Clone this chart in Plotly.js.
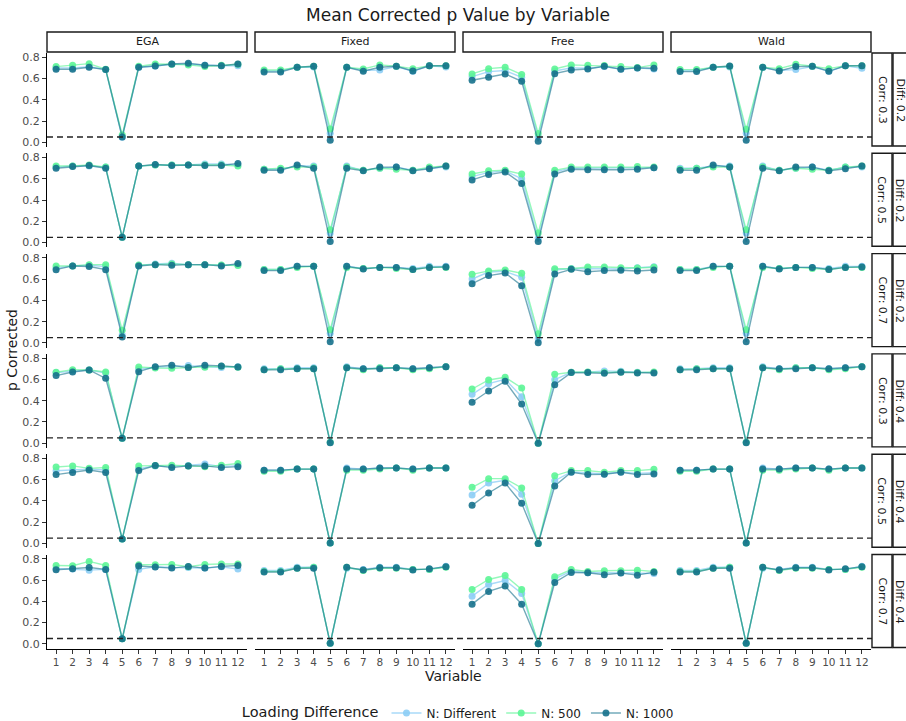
<!DOCTYPE html>
<html><head><meta charset="utf-8">
<script src="https://cdn.plot.ly/plotly-3.0.1.min.js"></script>
<style>html,body{margin:0;padding:0;background:#fff}</style>
</head><body><div id="chart" style="width:906px;height:721px"></div>
<script>
const variables = [1,2,3,4,5,6,7,8,9,10,11,12];
const methods = ['EGA','Fixed','Free','Wald'];
const rowDiff = ['Diff: 0.2','Diff: 0.2','Diff: 0.2','Diff: 0.4','Diff: 0.4','Diff: 0.4'];
const rowCorr = ['Corr: 0.3','Corr: 0.5','Corr: 0.7','Corr: 0.3','Corr: 0.5','Corr: 0.7'];
const seriesNames = ['N: Different','N: 500','N: 1000'];
const yTicks = [0,0.2,0.4,0.6,0.8];
const yTickText = ['0.0','0.2','0.4','0.6','0.8'];
const refLine = 0.05;

// rows: Diff0.2/Corr0.3, Diff0.2/Corr0.5, Diff0.2/Corr0.7, Diff0.4/Corr0.3, Diff0.4/Corr0.5, Diff0.4/Corr0.7
const egaDiff = [
 [0.70,0.70,0.71,0.684,0.047,0.706,0.718,0.734,0.734,0.725,0.72,0.72],
 [0.71,0.72,0.72,0.71,0.05,0.72,0.73,0.73,0.73,0.74,0.74,0.73],
 [0.705,0.724,0.73,0.718,0.075,0.73,0.743,0.749,0.736,0.736,0.73,0.733],
 [0.664,0.68,0.689,0.66,0.046,0.695,0.714,0.72,0.73,0.72,0.711,0.72],
 [0.685,0.692,0.70,0.692,0.042,0.704,0.73,0.723,0.733,0.749,0.723,0.733],
 [0.709,0.703,0.693,0.70,0.047,0.70,0.725,0.718,0.718,0.712,0.725,0.703]
];
const ega500 = [
 [0.712,0.725,0.74,0.687,0.069,0.715,0.737,0.734,0.728,0.712,0.725,0.734],
 [0.72,0.72,0.73,0.71,0.05,0.72,0.73,0.73,0.73,0.73,0.73,0.72],
 [0.724,0.724,0.736,0.736,0.118,0.733,0.736,0.743,0.736,0.736,0.733,0.727],
 [0.667,0.692,0.689,0.67,0.046,0.717,0.708,0.705,0.711,0.714,0.724,0.714],
 [0.72,0.73,0.707,0.714,0.042,0.73,0.733,0.736,0.73,0.723,0.736,0.752],
 [0.737,0.734,0.775,0.737,0.047,0.744,0.744,0.747,0.725,0.747,0.75,0.75]
];
const ega1000 = [
 [0.687,0.687,0.706,0.684,0.05,0.706,0.718,0.737,0.744,0.725,0.72,0.737],
 [0.70,0.715,0.725,0.70,0.05,0.72,0.735,0.725,0.73,0.725,0.725,0.745],
 [0.689,0.724,0.718,0.689,0.056,0.724,0.736,0.73,0.736,0.736,0.724,0.746],
 [0.636,0.67,0.689,0.61,0.046,0.673,0.72,0.733,0.711,0.733,0.727,0.717],
 [0.648,0.667,0.692,0.667,0.042,0.686,0.733,0.714,0.73,0.73,0.714,0.723],
 [0.696,0.706,0.718,0.70,0.047,0.731,0.722,0.712,0.728,0.712,0.728,0.737]
];
const fixedDiff = [
 [0.671,0.671,0.706,0.709,0.085,0.706,0.678,0.68,0.712,0.668,0.72,0.709],
 [0.69,0.69,0.72,0.72,0.09,0.72,0.68,0.70,0.71,0.68,0.70,0.71],
 [0.69,0.69,0.72,0.72,0.09,0.72,0.70,0.71,0.71,0.70,0.72,0.72],
 [0.70,0.70,0.71,0.71,0.01,0.72,0.70,0.71,0.71,0.70,0.71,0.72],
 [0.69,0.69,0.70,0.70,0.005,0.71,0.70,0.71,0.71,0.70,0.71,0.71],
 [0.69,0.69,0.72,0.72,0.005,0.71,0.70,0.72,0.72,0.70,0.70,0.73]
];
const fixed500 = [
 [0.68,0.68,0.706,0.715,0.125,0.706,0.69,0.728,0.715,0.693,0.72,0.72],
 [0.69,0.70,0.71,0.71,0.12,0.71,0.68,0.70,0.69,0.68,0.71,0.72],
 [0.69,0.69,0.71,0.72,0.125,0.71,0.70,0.71,0.70,0.69,0.71,0.71],
 [0.69,0.70,0.70,0.70,0.01,0.71,0.69,0.71,0.71,0.69,0.70,0.72],
 [0.68,0.68,0.70,0.70,0.005,0.69,0.69,0.70,0.71,0.69,0.71,0.71],
 [0.68,0.68,0.71,0.72,0.005,0.72,0.69,0.71,0.71,0.70,0.70,0.72]
];
const fixed1000 = [
 [0.662,0.662,0.706,0.715,0.019,0.706,0.668,0.706,0.715,0.671,0.72,0.72],
 [0.68,0.68,0.73,0.70,0.01,0.70,0.675,0.71,0.71,0.675,0.695,0.72],
 [0.68,0.68,0.72,0.72,0.01,0.72,0.695,0.71,0.71,0.69,0.71,0.715],
 [0.69,0.69,0.70,0.70,0.005,0.71,0.70,0.70,0.71,0.70,0.71,0.72],
 [0.69,0.69,0.70,0.70,0.005,0.70,0.70,0.71,0.71,0.70,0.71,0.71],
 [0.675,0.675,0.71,0.71,0.005,0.72,0.695,0.715,0.715,0.695,0.705,0.725]
];
const freeDiff = [
 [0.618,0.665,0.675,0.612,0.05,0.671,0.70,0.696,0.712,0.69,0.70,0.69],
 [0.62,0.66,0.675,0.60,0.04,0.665,0.70,0.70,0.70,0.70,0.70,0.705],
 [0.601,0.667,0.673,0.617,0.037,0.686,0.70,0.70,0.70,0.695,0.708,0.717],
 [0.46,0.56,0.601,0.438,0.0,0.598,0.667,0.667,0.68,0.677,0.667,0.664],
 [0.456,0.569,0.594,0.463,0.0,0.591,0.673,0.66,0.654,0.673,0.66,0.667],
 [0.448,0.558,0.596,0.473,0.0,0.612,0.683,0.668,0.668,0.668,0.668,0.662]
];
const free500 = [
 [0.643,0.693,0.706,0.637,0.082,0.69,0.728,0.725,0.722,0.712,0.703,0.728],
 [0.645,0.675,0.68,0.645,0.09,0.68,0.71,0.71,0.71,0.71,0.715,0.71],
 [0.645,0.677,0.686,0.655,0.086,0.698,0.698,0.714,0.714,0.708,0.705,0.711],
 [0.51,0.595,0.62,0.519,0.0,0.648,0.667,0.67,0.664,0.67,0.664,0.67],
 [0.529,0.61,0.61,0.522,0.0,0.638,0.686,0.686,0.67,0.686,0.686,0.698],
 [0.511,0.605,0.643,0.511,0.0,0.63,0.699,0.68,0.687,0.687,0.693,0.68]
];
const free1000 = [
 [0.584,0.612,0.643,0.574,0.009,0.646,0.68,0.69,0.715,0.687,0.70,0.696],
 [0.59,0.64,0.665,0.555,0.01,0.645,0.69,0.685,0.685,0.685,0.69,0.705],
 [0.557,0.633,0.658,0.538,0.002,0.648,0.692,0.67,0.68,0.683,0.677,0.686],
 [0.385,0.491,0.582,0.369,0.0,0.551,0.664,0.664,0.658,0.667,0.661,0.661],
 [0.359,0.475,0.569,0.378,0.0,0.541,0.67,0.648,0.651,0.67,0.648,0.654],
 [0.373,0.493,0.543,0.373,0.0,0.577,0.671,0.668,0.649,0.665,0.646,0.674]
];
const waldDiff = [
 [0.675,0.675,0.706,0.709,0.085,0.703,0.678,0.684,0.712,0.668,0.72,0.696],
 [0.70,0.70,0.72,0.72,0.09,0.72,0.68,0.70,0.71,0.68,0.71,0.71],
 [0.69,0.69,0.72,0.72,0.09,0.72,0.70,0.71,0.71,0.70,0.72,0.72],
 [0.70,0.70,0.71,0.71,0.01,0.72,0.70,0.71,0.71,0.70,0.71,0.72],
 [0.69,0.69,0.70,0.70,0.005,0.71,0.70,0.71,0.71,0.70,0.71,0.71],
 [0.69,0.69,0.72,0.72,0.005,0.71,0.70,0.72,0.72,0.70,0.70,0.73]
];
const wald500 = [
 [0.684,0.684,0.706,0.715,0.122,0.706,0.693,0.734,0.715,0.693,0.72,0.72],
 [0.69,0.70,0.71,0.71,0.12,0.71,0.68,0.70,0.69,0.68,0.71,0.72],
 [0.69,0.69,0.71,0.72,0.125,0.71,0.70,0.71,0.70,0.69,0.71,0.71],
 [0.69,0.70,0.70,0.70,0.01,0.71,0.69,0.71,0.71,0.69,0.70,0.72],
 [0.68,0.68,0.70,0.70,0.005,0.69,0.69,0.70,0.71,0.69,0.71,0.71],
 [0.68,0.68,0.71,0.72,0.005,0.72,0.69,0.71,0.71,0.70,0.70,0.72]
];
const wald1000 = [
 [0.665,0.665,0.706,0.718,0.019,0.706,0.671,0.712,0.715,0.668,0.72,0.72],
 [0.68,0.68,0.73,0.71,0.01,0.70,0.675,0.71,0.71,0.675,0.695,0.72],
 [0.68,0.68,0.72,0.72,0.01,0.72,0.695,0.71,0.71,0.69,0.71,0.715],
 [0.69,0.69,0.70,0.70,0.005,0.71,0.70,0.70,0.71,0.70,0.71,0.72],
 [0.69,0.69,0.70,0.70,0.005,0.70,0.70,0.71,0.71,0.70,0.71,0.71],
 [0.675,0.675,0.71,0.71,0.005,0.72,0.695,0.715,0.715,0.695,0.705,0.725]
];

const seriesByMethod = [
  [egaDiff, ega500, ega1000],
  [fixedDiff, fixed500, fixed1000],
  [freeDiff, free500, free1000],
  [waldDiff, wald500, wald1000]
];
const markerColors = ['#8ccdf5','#5cf596','#16718c'];
const lineColors = ['rgba(140,205,245,0.75)','rgba(92,245,150,0.65)','rgba(22,113,140,0.6)'];

const W = 906, H = 721;
const colX = [47,255,463,671], colW = 200;
const rowTop0 = 53, rowStep = 100.3, rowH = 94;
const FONT = 'DejaVu Sans, sans-serif';

const traces = [];
const layout = {
  width: W, height: H,
  margin: {l:0, r:0, t:0, b:0, pad: 0, autoexpand: false},
  paper_bgcolor: '#fff', plot_bgcolor: 'rgba(0,0,0,0)',
  font: {family: FONT, color: '#1a1a1a'},
  title: {text: 'Mean Corrected p Value by Variable', x: 458/W, xanchor: 'center', y: 1 - 15/H, yanchor: 'middle', font: {size: 17, color: '#1a1a1a'}},
  showlegend: true,
  legend: {orientation: 'h', x: 0.507, xanchor: 'center', y: 1 - 713/H, yanchor: 'middle',
    title: {text: 'Loading Difference', side: 'left', font: {size: 14.5, color: '#1a1a1a'}},
    font: {size: 12, color: '#1a1a1a'}, itemwidth: 30, tracegroupgap: 0, bgcolor: 'rgba(0,0,0,0)'},
  shapes: [], annotations: []
};

for (let r = 0; r < 6; r++) {
  const top = rowTop0 + r*rowStep;
  for (let c = 0; c < 4; c++) {
    const k = r*4 + c + 1;
    const xs = k === 1 ? '' : String(k);
    const xName = 'x' + xs, yName = 'y' + xs;
    const bottomRow = r === 5, leftCol = c === 0;
    layout['xaxis' + xs] = {
      domain: [colX[c]/W, (colX[c]+colW)/W], anchor: yName,
      range: [0.45, 12.55], fixedrange: true, automargin: false,
      showgrid: false, zeroline: false,
      showline: bottomRow, linecolor: '#000', linewidth: 1.1,
      ticks: bottomRow ? 'outside' : '', ticklen: 4, tickcolor: '#333', tickwidth: 1,
      tickvals: variables, ticktext: variables.map(String),
      showticklabels: bottomRow, tickfont: {size: 10.5, color: '#4d4d4d'}
    };
    layout['yaxis' + xs] = {
      domain: [1 - (top + rowH)/H, 1 - top/H], anchor: xName,
      range: [-0.044, 0.84], fixedrange: true, automargin: false,
      showgrid: false, zeroline: false,
      showline: leftCol, linecolor: '#000', linewidth: 1.1,
      ticks: leftCol ? 'outside' : '', ticklen: 4, tickcolor: '#333', tickwidth: 1,
      tickvals: yTicks, ticktext: yTickText,
      showticklabels: leftCol, tickfont: {size: 11, color: '#4d4d4d'}
    };
    const sets = seriesByMethod[c];
    for (let s = 0; s < 3; s++) {
      traces.push({
        type: 'scatter', mode: 'lines+markers',
        x: variables, y: sets[s][r],
        xaxis: xName, yaxis: yName,
        name: seriesNames[s], legendgroup: seriesNames[s],
        showlegend: k === 1,
        line: {color: lineColors[s], width: 1.4},
        marker: {color: markerColors[s], size: 7, opacity: 0.9},
        hoverinfo: 'skip'
      });
    }
  }
  // reference dashed line across the row
  layout.shapes.push({type: 'line', xref: 'paper', x0: 47/W, x1: 872/W,
    yref: (r === 0 ? 'y' : 'y' + (r*4 + 1)), y0: refLine, y1: refLine,
    line: {color: '#222', width: 1.3, dash: '6px,4px'}});
  // right strips
  layout.shapes.push({type: 'rect', xref: 'paper', yref: 'paper',
    x0: 872/W, x1: 892/W, y0: 1 - (top + rowH - 1)/H, y1: 1 - top/H,
    line: {color: '#1a1a1a', width: 1.4}, fillcolor: '#fff'});
  layout.shapes.push({type: 'rect', xref: 'paper', yref: 'paper',
    x0: 893/W, x1: 915/W, y0: 1 - (top + rowH - 1)/H, y1: 1 - top/H,
    line: {color: '#1a1a1a', width: 1.4}, fillcolor: '#fff'});
  layout.annotations.push({text: rowCorr[r], xref: 'paper', yref: 'paper',
    x: 882/W, y: 1 - (top + rowH/2)/H, textangle: 90, showarrow: false,
    font: {size: 11, color: '#1a1a1a'}, xanchor: 'center', yanchor: 'middle'});
  layout.annotations.push({text: rowDiff[r], xref: 'paper', yref: 'paper',
    x: 899.5/W, y: 1 - (top + rowH/2)/H, textangle: 90, showarrow: false,
    font: {size: 11, color: '#1a1a1a'}, xanchor: 'center', yanchor: 'middle'});
}
// column strips
for (let c = 0; c < 4; c++) {
  layout.shapes.push({type: 'rect', xref: 'paper', yref: 'paper',
    x0: colX[c]/W, x1: (colX[c]+colW)/W, y0: 1 - 52/H, y1: 1 - 32/H,
    line: {color: '#1a1a1a', width: 1.4}, fillcolor: '#fff'});
  layout.annotations.push({text: methods[c], xref: 'paper', yref: 'paper',
    x: (colX[c] + colW/2)/W, y: 1 - 42/H, showarrow: false,
    font: {size: 11, color: '#1a1a1a'}, xanchor: 'center', yanchor: 'middle'});
}
// axis titles
layout.annotations.push({text: 'p Corrected', xref: 'paper', yref: 'paper',
  x: 12/W, y: 1 - 350/H, textangle: -90, showarrow: false,
  font: {size: 14, color: '#1a1a1a'}, xanchor: 'center', yanchor: 'middle'});
layout.annotations.push({text: 'Variable', xref: 'paper', yref: 'paper',
  x: 453/W, y: 1 - 666/H, showarrow: false,
  font: {size: 14, color: '#1a1a1a'}, xanchor: 'center', yanchor: 'top'});

Plotly.newPlot('chart', traces, layout, {staticPlot: true, displayModeBar: false});
</script>
</body></html>
